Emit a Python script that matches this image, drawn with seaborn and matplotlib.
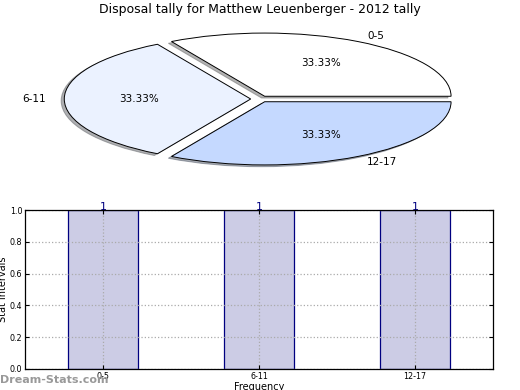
import matplotlib
matplotlib.use("Agg")
import matplotlib.pyplot as plt
import seaborn as sns
import pandas as pd

categories = ["0-5", "6-11", "12-17"]
counts = [1, 1, 1]
pie_colors = ["#FFFFFF", "#EBF2FF", "#C5D9FF"]
title = "Disposal tally for Matthew Leuenberger - 2012 tally"

sns.set_style("white")
plt.rcParams['font.family'] = ['DejaVu Sans']
plt.rcParams['text.color'] = 'black'
plt.rcParams['axes.labelcolor'] = 'black'
plt.rcParams['xtick.color'] = 'black'
plt.rcParams['ytick.color'] = 'black'

fig = plt.figure(figsize=(5.2, 3.9), dpi=100)

# pie on top, stretched (not equal aspect)
ax1 = fig.add_axes([27 / 520, 1 - 178 / 390, 466 / 520, 158 / 390])
wedges, texts, autotexts = ax1.pie(
    counts, labels=categories, colors=pie_colors, explode=[0.05] * 3,
    autopct="%1.2f%%", startangle=0,
    shadow={"ox": -0.012, "oy": -0.02, "shade": 0.6},
    wedgeprops=dict(edgecolor="black", linewidth=0.7),
    textprops=dict(fontsize=7.5))
ax1.set_aspect("auto")
ax1.set_xlim(-1.25, 1.25)
ax1.set_ylim(-1.25, 1.25)
fig.text(0.5, 1 - 10 / 390, title, fontsize=9, ha="center", va="center")

# bar chart below
ax2 = fig.add_axes([25 / 520, 1 - 369 / 390, 468 / 520, 159 / 390])
df = pd.DataFrame({"interval": categories, "count": counts})
sns.barplot(data=df, x="interval", y="count", ax=ax2, width=0.45,
            color="#CCCCE5", edgecolor="navy", linewidth=0.9, saturation=1)
ax2.set_xlim(-0.5, 2.5)
ax2.set_ylim(0, 1.0)
ax2.set_yticks([0.0, 0.2, 0.4, 0.6, 0.8, 1.0])
ax2.grid(True, linestyle=":", color="#aaaaaa", linewidth=0.9)
ax2.set_axisbelow(False)
for s in ax2.spines.values():
    s.set_visible(True)
    s.set_color("black")
    s.set_linewidth(0.9)
    s.set_zorder(5)
ax2.tick_params(axis="both", direction="in", length=3, labelsize=5.8,
                top=True, right=True, bottom=True, left=True, pad=2)
ax2.set_xlabel("Frequency", fontsize=7, labelpad=1)
ax2.set_ylabel("Stat intervals", fontsize=7, labelpad=1)
for i, c in enumerate(counts):
    ax2.text(i, c - 0.015, str(c), ha="center", va="bottom", color="navy", fontsize=8)

fig.text(0.0, 0.012, "Dream-Stats.com", color="#999999", fontsize=8,
         fontweight="semibold", ha="left", va="bottom")

fig.savefig("out.png", dpi=100)
